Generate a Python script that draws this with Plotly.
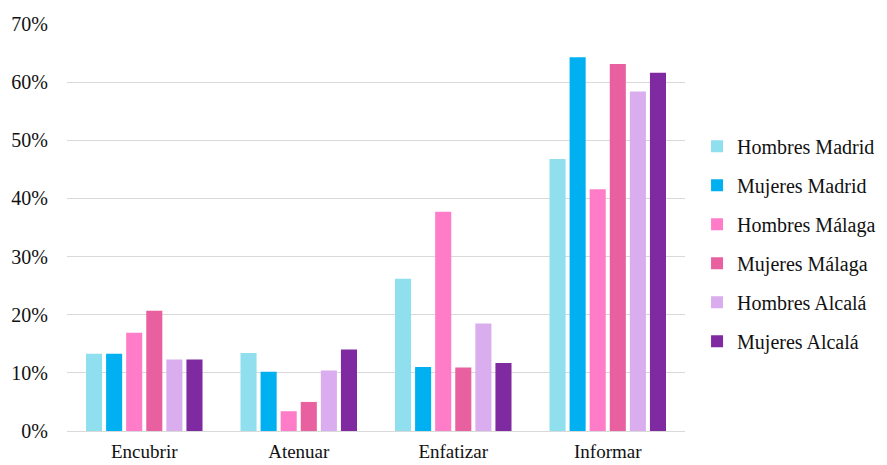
import plotly.graph_objects as go

categories = ["Encubrir", "Atenuar", "Enfatizar", "Informar"]

hombres_madrid = [0.133, 0.134, 0.262, 0.468]
mujeres_madrid = [0.133, 0.102, 0.110, 0.643]
hombres_malaga = [0.169, 0.034, 0.377, 0.416]
mujeres_malaga = [0.207, 0.050, 0.109, 0.631]
hombres_alcala = [0.123, 0.104, 0.185, 0.584]
mujeres_alcala = [0.123, 0.140, 0.117, 0.616]

series = [
    ("Hombres Madrid", hombres_madrid, "#8FDFEE"),
    ("Mujeres Madrid", mujeres_madrid, "#00B0F0"),
    ("Hombres Málaga", hombres_malaga, "#FF7CC9"),
    ("Mujeres Málaga", mujeres_malaga, "#E8609F"),
    ("Hombres Alcalá", hombres_alcala, "#D9ADEE"),
    ("Mujeres Alcalá", mujeres_alcala, "#7F2AA1"),
]

fig = go.Figure()
for name, vals, color in series:
    fig.add_trace(go.Bar(
        x=categories, y=vals, name=name, legendgroup=name,
        marker=dict(color=color, line=dict(width=0)),
    ))

font_family = "'Times New Roman', 'Liberation Serif', 'DejaVu Serif', serif"

fig.update_layout(
    width=887, height=465,
    margin=dict(l=67, r=202, t=24, b=34, autoexpand=False),
    paper_bgcolor="white", plot_bgcolor="white",
    barmode="group", bargap=0.22, bargroupgap=0.2,
    font=dict(family=font_family, size=20, color="#111111"),
    xaxis=dict(showgrid=False, showline=False, ticks="", automargin=False,
               tickfont=dict(family=font_family, size=19),
               ticklabelstandoff=7),
    yaxis=dict(range=[0, 0.70], dtick=0.1, tickformat=".0%", showgrid=True,
               gridcolor="#D9D9D9", gridwidth=1, zeroline=True,
               zerolinecolor="#D9D9D9", zerolinewidth=1, showline=False,
               ticks="", automargin=False,
               tickfont=dict(family=font_family, size=20),
               ticklabelstandoff=18),
    legend=dict(x=1.0195, y=0.46, xanchor="left", yanchor="middle",
                font=dict(family=font_family, size=20), tracegroupgap=10,
                itemwidth=30, bgcolor="rgba(0,0,0,0)"),
    showlegend=True,
)

fig.write_html("out.html")
